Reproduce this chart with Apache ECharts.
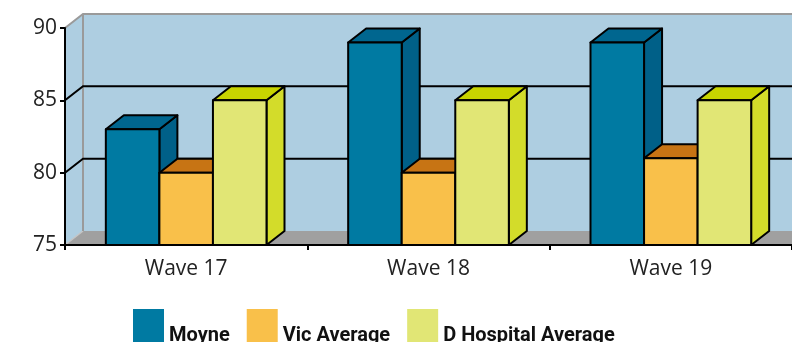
<!DOCTYPE html>
<html>
<head>
<meta charset="utf-8">
<script src="https://cdn.jsdelivr.net/npm/echarts@6/dist/echarts.min.js"></script>
<style>
  html, body { margin: 0; padding: 0; background: #fff; }
  #chart { width: 792px; height: 342px; }
</style>
</head>
<body>
<div id="chart"></div>
<script>
// Survey scores per wave
const categories = ['Wave 17', 'Wave 18', 'Wave 19'];
const moyne = [83, 89, 89];
const vicAverage = [80, 80, 81];
const dHospitalAverage = [85, 85, 85];
const yTicks = [75, 80, 85, 90];

const seriesNames = ['Moyne', 'Vic Average', 'D Hospital Average'];
const seriesValues = [moyne, vicAverage, dHospitalAverage];

// Faces: front, top, side
const palette = [
  { front: '#007aa2', top: '#00668f', side: '#006088' },
  { front: '#f9c04a', top: '#c77414', side: '#d88a20' },
  { front: '#e1e675', top: '#c8d400', side: '#d3dc2a' }
];

// Pseudo-3D depth offset in pixels
const DX = 18, DY = -14;
const BAR_FRAC = 0.221;
const Y_MIN = yTicks[0], Y_MAX = yTicks[yTicks.length - 1];

const chart = echarts.init(document.getElementById('chart'), null, { renderer: 'canvas' });

function frameRender(params, api) {
  const cs = params.coordSys;
  const left = cs.x, right = cs.x + cs.width;
  const topY = api.coord([0, Y_MAX])[1];
  const botY = api.coord([0, Y_MIN])[1];
  const wall = '#aecee1';
  const children = [];
  // back wall
  children.push({ type: 'rect', shape: { x: left + DX, y: topY + DY, width: cs.width + 40, height: botY - topY },
    style: { fill: wall } });
  // left wall
  children.push({ type: 'polygon', shape: { points: [[left, topY], [left + DX, topY + DY], [left + DX, botY + DY], [left, botY]] },
    style: { fill: wall } });
  // floor
  children.push({ type: 'polygon', shape: { points: [[left, botY], [left + DX, botY + DY], [right + DX + 40, botY + DY], [right + 40, botY]] },
    style: { fill: '#a0a0a0' } });
  children.push({ type: 'line', shape: { x1: left, y1: botY, x2: left + DX, y2: botY + DY },
    style: { stroke: '#c4c4c4', lineWidth: 1.5 } });
  // wall edges
  children.push({ type: 'polyline', shape: { points: [[left, topY], [left + DX, topY + DY], [right + DX + 40, topY + DY]] },
    style: { stroke: '#9a9a9a', lineWidth: 2, fill: null } });
  children.push({ type: 'line', shape: { x1: left + DX, y1: topY + DY, x2: left + DX, y2: botY + DY },
    style: { stroke: '#9a9a9a', lineWidth: 2 } });
  // gridlines
  yTicks.slice(1, -1).forEach(function (v) {
    const y = api.coord([0, v])[1];
    children.push({ type: 'polyline', shape: { points: [[left, y], [left + DX, y + DY], [right + DX + 40, y + DY]] },
      style: { stroke: '#000', lineWidth: 2, fill: null } });
  });
  return { type: 'group', children: children };
}

function barRender(idx) {
  const c = palette[idx];
  return function (params, api) {
    const cat = api.value(0);
    const base = api.coord([cat, Y_MIN]);
    const top = api.coord([cat, api.value(1)]);
    const band = api.size([1, 0])[0];
    const w = band * BAR_FRAC;
    const x0 = base[0] - 1.5 * w + idx * w;
    const x1 = x0 + w;
    const ty = top[1], by = base[1];
    const stroke = { stroke: '#000', lineWidth: 2, lineJoin: 'round' };
    return {
      type: 'group',
      children: [
        { type: 'polygon', shape: { points: [[x1, ty], [x1 + DX, ty + DY], [x1 + DX, by + DY], [x1, by]] },
          style: Object.assign({ fill: c.side }, stroke) },
        { type: 'polygon', shape: { points: [[x0, ty], [x0 + DX, ty + DY], [x1 + DX, ty + DY], [x1, ty]] },
          style: Object.assign({ fill: c.top }, stroke) },
        { type: 'rect', shape: { x: x0, y: ty, width: w, height: by - ty },
          style: Object.assign({ fill: c.front }, stroke) }
      ]
    };
  };
}

const series = [{
  type: 'custom',
  name: 'frame',
  z: 1,
  silent: true,
  data: [[0, Y_MIN]],
  renderItem: frameRender,
  clip: false
}];

seriesNames.forEach(function (name, i) {
  series.push({
    type: 'custom',
    name: name,
    z: 2,
    itemStyle: { color: palette[i].front },
    data: seriesValues[i].map(function (v, k) { return [k, v]; }),
    encode: { x: 0, y: 1 },
    renderItem: barRender(i),
    clip: false
  });
});

chart.setOption({
  animation: false,
  backgroundColor: '#ffffff',
  textStyle: { fontFamily: 'Open Sans' },
  grid: { left: 65, top: 28, width: 729, height: 217 },
  legend: {
    data: seriesNames,
    left: 133,
    top: 309,
    padding: 0,
    icon: 'rect',
    itemWidth: 31,
    itemHeight: 53,
    itemGap: 17,
    itemStyle: { borderWidth: 0 },
    textStyle: { fontFamily: 'Roboto', fontSize: 20, fontWeight: 'bold', color: '#111' }
  },
  xAxis: {
    type: 'category',
    data: categories,
    z: 5,
    axisLine: { lineStyle: { color: '#000', width: 2 } },
    axisTick: { show: true, length: 5, lineStyle: { color: '#000', width: 2 } },
    axisLabel: { fontSize: 21, color: '#222', margin: 14, fontFamily: 'Open Sans' },
    splitLine: { show: false }
  },
  yAxis: {
    type: 'value',
    min: Y_MIN,
    max: Y_MAX,
    interval: 5,
    z: 5,
    axisLine: { show: true, lineStyle: { color: '#000', width: 2 } },
    axisTick: { show: true, length: 5, lineStyle: { color: '#000', width: 2 } },
    axisLabel: { fontSize: 21, color: '#222', margin: 8, fontFamily: 'Open Sans' },
    splitLine: { show: false }
  },
  series: series
});
</script>
</body>
</html>
